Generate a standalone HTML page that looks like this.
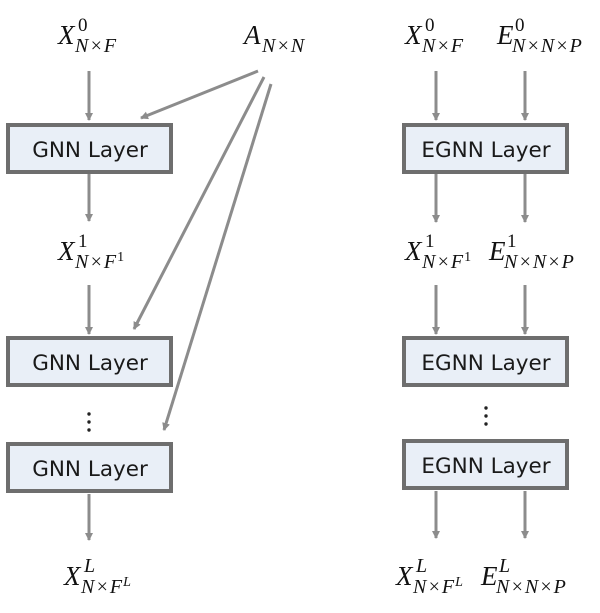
<!DOCTYPE html>
<html><head><style>
html,body{margin:0;padding:0;background:#fff;}
svg{display:block;}
.m{font-family:"Liberation Serif",serif;font-style:italic;font-size:27px;fill:#111;}
.s{font-size:20px;letter-spacing:1px;}
.u{font-size:19px;font-style:normal;}
.b{font-family:"DejaVu Sans","Liberation Sans",sans-serif;font-size:21.5px;fill:#1a1a1a;}
</style></head><body>
<svg width="600" height="613" viewBox="0 0 600 613" xmlns="http://www.w3.org/2000/svg">
<defs><marker id="a" markerWidth="10" markerHeight="10" refX="7" refY="4" orient="auto" markerUnits="userSpaceOnUse"><path d="M0,0 L8,4 L0,8 z" fill="#8c8c8c"/></marker></defs>
<g stroke="#8c8c8c" stroke-width="3" fill="none" marker-end="url(#a)">
<line x1="89" y1="71" x2="89" y2="120"/>
<line x1="89" y1="174" x2="89" y2="221"/>
<line x1="89" y1="285" x2="89" y2="334"/>
<line x1="89" y1="494" x2="89" y2="540"/>
<line x1="258" y1="71" x2="141" y2="118"/>
<line x1="264" y1="77" x2="134" y2="329"/>
<line x1="271" y1="84" x2="164" y2="430"/>
<line x1="436" y1="71" x2="436" y2="120"/>
<line x1="525" y1="71" x2="525" y2="120"/>
<line x1="436" y1="174" x2="436" y2="222"/>
<line x1="525" y1="174" x2="525" y2="222"/>
<line x1="436" y1="285" x2="436" y2="334"/>
<line x1="525" y1="285" x2="525" y2="334"/>
<line x1="436" y1="491" x2="436" y2="538"/>
<line x1="525" y1="491" x2="525" y2="538"/>
</g>
<g fill="#e9eff7" stroke="#6e6e6e" stroke-width="4">
<rect x="8" y="125" width="163" height="47"/>
<rect x="8" y="338" width="163" height="47"/>
<rect x="8" y="444" width="163" height="47"/>
<rect x="404" y="125" width="163" height="47"/>
<rect x="404" y="338" width="163" height="47"/>
<rect x="404" y="441" width="163" height="47"/>
</g>
<g class="b" text-anchor="middle">
<text x="90" y="157">GNN Layer</text>
<text x="90" y="370">GNN Layer</text>
<text x="90" y="476">GNN Layer</text>
<text x="486" y="157">EGNN Layer</text>
<text x="486" y="370">EGNN Layer</text>
<text x="486" y="473">EGNN Layer</text>
</g>
<g fill="#222"><circle cx="89" cy="414" r="1.7"/><circle cx="89" cy="422" r="1.7"/><circle cx="89" cy="430" r="1.7"/>
<circle cx="486" cy="408" r="1.7"/><circle cx="486" cy="416" r="1.7"/><circle cx="486" cy="424" r="1.7"/></g>
<g class="m">
<text x="58" y="44">X</text><text class="u" x="78" y="31">0</text><text class="s" x="75" y="52">N×F</text>
<text x="244" y="44">A</text><text class="s" x="262" y="52">N×N</text>
<text x="58" y="260">X</text><text class="u" x="78" y="247">1</text><text class="s" x="75" y="268">N×F<tspan dy="-7" font-size="14" style="font-style:normal">1</tspan></text>
<text x="64" y="585">X</text><text class="s" x="84" y="572">L</text><text class="s" x="81" y="593">N×F<tspan dy="-7" font-size="14">L</tspan></text>
<text x="405" y="44">X</text><text class="u" x="425" y="31">0</text><text class="s" x="422" y="52">N×F</text>
<text x="497" y="44">E</text><text class="u" x="515" y="31">0</text><text class="s" x="512" y="52">N×N×P</text>
<text x="405" y="260">X</text><text class="u" x="425" y="247">1</text><text class="s" x="422" y="268">N×F<tspan dy="-7" font-size="14" style="font-style:normal">1</tspan></text>
<text x="489" y="260">E</text><text class="u" x="507" y="247">1</text><text class="s" x="504" y="268">N×N×P</text>
<text x="396" y="585">X</text><text class="s" x="416" y="572">L</text><text class="s" x="413" y="593">N×F<tspan dy="-7" font-size="14">L</tspan></text>
<text x="481" y="585">E</text><text class="s" x="499" y="572">L</text><text class="s" x="496" y="593">N×N×P</text>
</g>
</svg>
</body></html>
